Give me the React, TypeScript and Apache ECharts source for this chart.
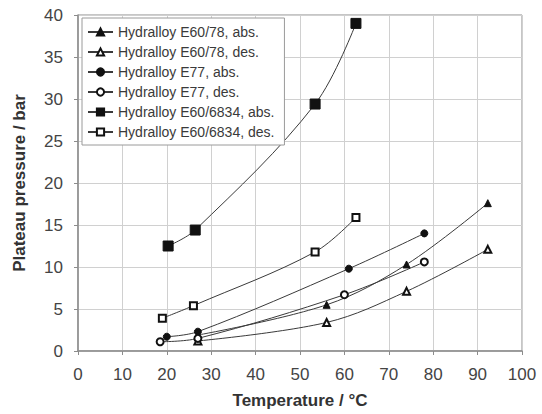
import React, { useEffect, useRef } from "react";
import * as echarts from "echarts";

const xTicks = [0, 10, 20, 30, 40, 50, 60, 70, 80, 90, 100];
const yTicks = [0, 5, 10, 15, 20, 25, 30, 35, 40];

const seriesNames = [
  "Hydralloy E60/78, abs.",
  "Hydralloy E60/78, des.",
  "Hydralloy E77, abs.",
  "Hydralloy E77, des.",
  "Hydralloy E60/6834, abs.",
  "Hydralloy E60/6834, des.",
];

const e6078Abs = [[27, 1.9], [56, 5.5], [74, 10.3], [92.3, 17.6]];
const e6078Des = [[27, 1.2], [56, 3.4], [74, 7.1], [92.3, 12.1]];
const e77Abs = [[20, 1.7], [27, 2.3], [61, 9.8], [78, 14.0]];
const e77Des = [[18.5, 1.1], [27, 1.5], [60, 6.7], [78, 10.6]];
const e6834Abs = [[20.3, 12.5], [26.4, 14.4], [53.4, 29.4], [62.6, 39.0]];
const e6834Des = [[19, 3.9], [26, 5.4], [53.4, 11.8], [62.6, 15.9]];

const seriesData = [e6078Abs, e6078Des, e77Abs, e77Des, e6834Abs, e6834Des];
const symbols = ["triangle", "emptyTriangle", "circle", "emptyCircle", "rect", "emptyRect"];
const symbolSizes = [7, 7, 7, 7, 10, 7];

export default function App() {
  const ref = useRef<HTMLDivElement>(null);
  useEffect(() => {
    document.body.style.margin = "0";
    const chart = echarts.init(ref.current as HTMLDivElement, null, { renderer: "svg" });
    const font = "'Liberation Sans', Arial, sans-serif";
    chart.setOption({
      animation: false,
      backgroundColor: "#ffffff",
      textStyle: { fontFamily: font },
      grid: {
        left: 78,
        right: 20,
        top: 15,
        bottom: 60,
        show: true,
        borderColor: "#8c8c8c",
        borderWidth: 1,
      },
      legend: {
        orient: "vertical",
        left: 82,
        top: 18,
        itemWidth: 25,
        itemHeight: 9,
        itemGap: 4,
        padding: [6, 10, 5, 5],
        backgroundColor: "#ffffff",
        borderColor: "#9a9a9a",
        borderWidth: 1,
        textStyle: { fontFamily: font, fontSize: 14, color: "#3a3a3a", lineHeight: 16 },
        data: seriesNames,
      },
      xAxis: {
        type: "value",
        min: 0,
        max: 100,
        interval: 10,
        name: "Temperature / °C",
        nameLocation: "middle",
        nameGap: 41,
        nameTextStyle: { fontFamily: font, fontSize: 17, fontWeight: "bold", color: "#333" },
        axisLine: { show: true, lineStyle: { color: "#8c8c8c", width: 1.5 } },
        axisTick: { show: true, inside: false, length: 4, lineStyle: { color: "#8c8c8c" } },
        axisLabel: { fontFamily: font, fontSize: 17, color: "#444", margin: 15 },
        splitLine: { show: true, lineStyle: { color: "#d0d0d0", width: 1 } },
      },
      yAxis: {
        type: "value",
        min: 0,
        max: 40,
        interval: 5,
        name: "Plateau pressure / bar",
        nameLocation: "middle",
        nameGap: 50,
        nameTextStyle: { fontFamily: font, fontSize: 17, fontWeight: "bold", color: "#333" },
        axisLine: { show: true, lineStyle: { color: "#8c8c8c", width: 1.5 } },
        axisTick: { show: true, inside: false, length: 4, lineStyle: { color: "#8c8c8c" } },
        axisLabel: { fontFamily: font, fontSize: 17, color: "#444", margin: 15 },
        splitLine: { show: true, lineStyle: { color: "#d0d0d0", width: 1 } },
      },
      series: seriesNames.map((name, i) => ({
        name,
        type: "line",
        data: seriesData[i],
        smooth: 0.35,
        symbol: symbols[i],
        symbolSize: symbolSizes[i],
        showAllSymbol: true,
        lineStyle: { color: "#3a3a3a", width: 1 },
        itemStyle: { color: "#111", borderColor: "#111", borderWidth: 1 },
        emphasis: { disabled: true },
      })),
    });
    return () => chart.dispose();
  }, []);
  return <div ref={ref} style={{ width: 542, height: 414 }} />;
}
